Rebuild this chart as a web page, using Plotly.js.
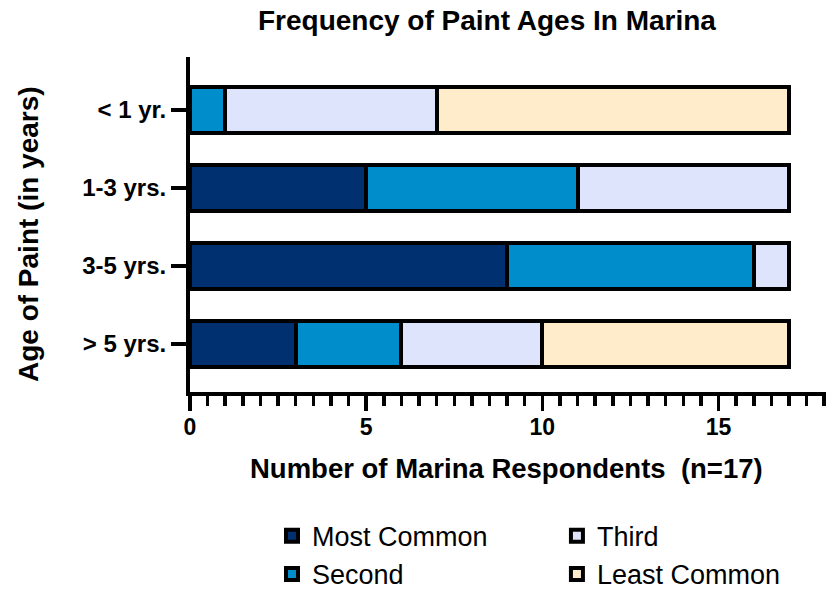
<!DOCTYPE html>
<html><head><meta charset="utf-8">
<script src="https://cdn.plot.ly/plotly-3.0.1.min.js"></script>
<style>body{margin:0;background:#fff}#chart{width:830px;height:591px}</style>
</head><body><div id="chart"></div>
<script>
const categories = ["< 1 yr.", "1-3 yrs.", "3-5 yrs.", "> 5 yrs."];
const mostCommon = [0, 5, 9, 3];
const second = [1, 6, 7, 3];
const third = [6, 6, 1, 4];
const leastCommon = [10, 0, 0, 7];
const seriesNames = ["Most Common", "Second", "Third", "Least Common"];
const seriesColors = ["#00306F", "#008DCB", "#DDE4FB", "#FFECCB"];
const xTickVals = [0, 5, 10, 15];

const F = "Arial, 'Liberation Sans', sans-serif";
const seriesData = [mostCommon, second, third, leastCommon];
const legendAssign = ["legend", "legend", "legend2", "legend2"];
const traces = seriesData.map((vals, i) => ({
  type: "bar", orientation: "h",
  name: seriesNames[i], x: vals, y: categories,
  width: 0.58,
  marker: {color: seriesColors[i], line: {color: "#000", width: 4}},
  legend: legendAssign[i], legendgroup: seriesNames[i],
  hoverinfo: "x+name"
}));

const legendCommon = {
  orientation: "v", xref: "container", yref: "container",
  xanchor: "left", yanchor: "top", tracegroupgap: 0,
  font: {family: F, size: 27, color: "#000"}, bgcolor: "rgba(0,0,0,0)",
  itemwidth: 30
};

const layout = {
  width: 830, height: 591,
  margin: {l: 190, r: 4, t: 57, b: 199, autoexpand: false},
  paper_bgcolor: "#fff", plot_bgcolor: "#fff",
  barmode: "stack",
  font: {family: F, color: "#000"},
  title: {text: "<b>Frequency of Paint Ages In Marina</b>", font: {family: F, size: 28, color: "#000"},
          xref: "container", yref: "container", x: 0.5867, y: 0.966, xanchor: "center", yanchor: "middle"},
  xaxis: {
    range: [0, 18.05], showline: true, linecolor: "#000", linewidth: 4,
    showgrid: false, zeroline: false, automargin: false,
    ticks: "outside", ticklen: 15, tickwidth: 3.5, tickcolor: "#000",
    tickvals: xTickVals, ticktext: xTickVals.map(v => "<b>" + v + "</b>"),
    tickfont: {family: F, size: 23, color: "#000"}, ticklabelstandoff: -4,
    minor: {dtick: 0.5, tick0: 0, ticks: "outside", ticklen: 10, tickwidth: 3.5, tickcolor: "#000", showgrid: false},
    fixedrange: true
  },
  yaxis: {
    type: "category", categoryorder: "array", categoryarray: categories,
    autorange: false, range: [3.615, -0.68],
    showline: true, linecolor: "#000", linewidth: 4,
    showgrid: false, zeroline: false, automargin: false,
    ticks: "outside", ticklen: 15, tickwidth: 3.5, tickcolor: "#000",
    tickvals: categories, ticktext: categories.map(c => "<b>" + c + "</b>"),
    tickfont: {family: F, size: 24, color: "#000"},
    fixedrange: true
  },
  annotations: [
    {text: "<b>Number of Marina Respondents  (n=17)</b>", xref: "paper", yref: "paper",
     x: 0.498, y: -0.2269, xanchor: "center", yanchor: "middle", showarrow: false,
     font: {family: F, size: 27.5, color: "#000"}},
    {text: "<b>Age of Paint (in years)</b>", xref: "paper", yref: "paper",
     x: -0.2547, y: 0.4716, xanchor: "center", yanchor: "middle", showarrow: false, textangle: -90,
     font: {family: F, size: 28, color: "#000"}}
  ],
  legend: Object.assign({}, legendCommon, {x: 0.3277, y: 0.134}),
  legend2: Object.assign({}, legendCommon, {x: 0.671, y: 0.134}),
  showlegend: true
};

Plotly.newPlot("chart", traces, layout, {displayModeBar: false, staticPlot: true});
</script></body></html>
